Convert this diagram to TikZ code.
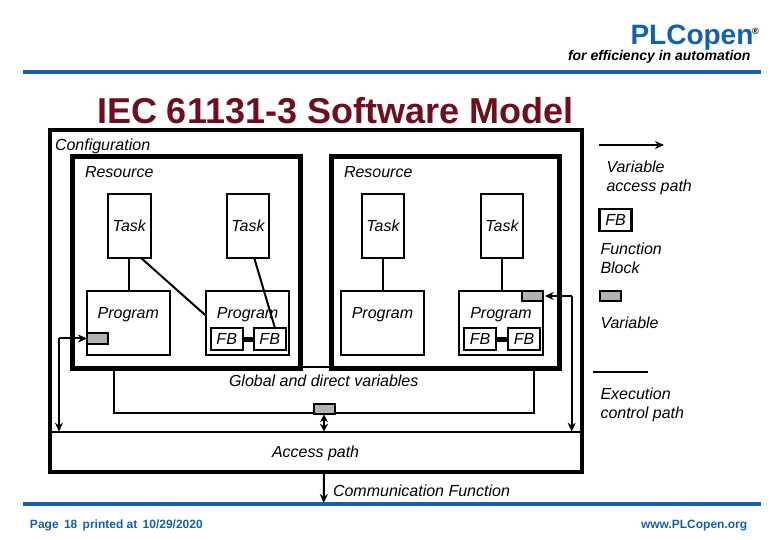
\documentclass[tikz,border=0pt]{standalone}
\usepackage{fontspec}
\setmainfont{Liberation Sans}
\usetikzlibrary{arrows.meta, positioning}
\definecolor{plcblue}{RGB}{18,96,176}
\definecolor{plcred}{RGB}{110,14,30}
\newcommand{\fs}[1]{\fontsize{#1}{1.2\dimexpr#1pt\relax}\selectfont}
\begin{document}
\begin{tikzpicture}[x=1pt,y=-1pt]
\useasboundingbox (0,0) rectangle (780,540);
% page head and foot
\begin{scope}[every node/.style={inner sep=0pt,outer sep=0pt,anchor=west}]
    \node[font=\fs{28}\bfseries,text=plcblue] (brand) at (630.5,37.5) {PLCopen};
    \node[font=\fs{9}\bfseries,text=black] (reg) at (752,31) {®};
    \node[font=\fs{14}\bfseries\itshape] (slogan) at (568,57) {for efficiency in automation};
    \node[font=\fs{36}\bfseries,text=plcred] (title) at (97,110.5) {IEC 61131-3 Software Model};
    \node[font=\fs{12}\bfseries,text=plcblue] (page) at (30,525) {Page\, 18\, printed at\, 10/29/2020};
    \node[font=\fs{12}\bfseries,text=plcblue] (web) at (641,525.5) {www.PLCopen.org};
\end{scope}
\coordinate (headl) at (23,72);
\coordinate (headr) at (761,72);
\coordinate (footl) at (23,504);
\coordinate (footr) at (761,504);
\draw[plcblue, line width=4.5pt] (headl) -- (headr);
\draw[plcblue, line width=4.5pt] (footl) -- (footr);

% boxes
\begin{scope}[every node/.style={shape=rectangle, draw, align=center, inner sep=0pt, outer sep=0pt,
    font=\fs{16}\itshape},
    confbox/.style={line width=4.5pt, minimum width=532pt, minimum height=342pt},
    resbox/.style={line width=5pt, minimum width=228pt, minimum height=212pt},
    globbox/.style={line width=2pt, minimum width=420pt, minimum height=46.7pt},
    taskbox/.style={line width=2pt, minimum width=42.6pt, minimum height=63.7pt},
    progbox/.style={line width=2pt, minimum width=83.5pt, minimum height=64.5pt,
        label={[inner sep=0pt,draw=none,yshift=8.5pt]center:Program}},
    fbbox/.style={line width=2.4pt, minimum width=32pt, minimum height=22pt},
    varbox/.style={line width=2pt, fill=gray!60, minimum width=21pt, minimum height=10.7pt}]
    \node[confbox] (conf) at (316,301) {};
    \node[globbox] (glob) at (324.2,390) {};
    \node[resbox] (resa) at (186.7,263) {};
    \node[resbox] (resb) at (445.3,263) {};

    \node[taskbox] (taska) at (129.3,226) {Task};
    \node[taskbox] (taskb) at (248,226) {Task};
    \node[taskbox] (taskc) at (383,226) {Task};
    \node[taskbox] (taskd) at (502,226) {Task};

    \node[progbox] (proga) at (128.3,323) {};
    \node[progbox] (progb) at (247.6,323) {};
    \node[progbox] (progc) at (382.5,323) {};
    \node[progbox] (progd) at (501,323) {};

    \node[fbbox] (fba) at (226.7,339.3) {FB};
    \node[fbbox] (fbb) at (269.7,339.3) {FB};
    \node[fbbox] (fbc) at (480,339.3) {FB};
    \node[fbbox] (fbd) at (524,339.3) {FB};

    \node[varbox] (vara) at (97.5,338.5) {};
    \node[varbox] (varb) at (532.2,296) {};
    \node[varbox] (varc) at (324,409) {};

    \node[fbbox] (keyfb) at (615.5,220.3) {FB};
    \node[varbox] (keyvar) at (610,296) {};
\end{scope}

% texts
\begin{scope}[every node/.style={inner sep=0pt, outer sep=0pt, anchor=west, align=left,
    font=\fs{16}\itshape}]
    \node (conftxt) at (55,146) {Configuration};
    \node (resatxt) at (85,172.5) {Resource};
    \node (resbtxt) at (344,172.5) {Resource};
    \node (globtxt) at (229,381) {Global and direct variables};
    \node (acctxt) at (272,453) {Access path};
    \node (commtxt) at (333,491) {Communication Function};
    \node (keya) at (606.5,178) {Variable\\access path};
    \node (keyb) at (600.5,258) {Function\\Block};
    \node (keyc) at (600.5,323) {Variable};
    \node (keyd) at (600.5,405) {Execution\\control path};
\end{scope}

% connectors
\coordinate (divl) at (52,431.7);
\coordinate (divr) at (580,431.7);
\coordinate (lbend) at (59,338.5);
\coordinate (rbend) at (571.7,296);
\coordinate (commend) at (323.7,503);
\coordinate (keyal) at (599,145);
\coordinate (keyar) at (664,145);
\coordinate (keydl) at (592.7,371.7);
\coordinate (keydr) at (647.7,371.7);
\begin{scope}[exec/.style={draw, line width=2pt},
    acc/.style={draw, line width=2pt, -{Stealth[length=9pt,width=8pt]}},
    both/.style={draw, line width=2pt, {Stealth[length=8pt,width=8pt]}-{Stealth[length=8pt,width=8pt]}}]
    \path[exec] (taska.south) -- (taska.south |- proga.north);
    \path[exec] (taska.-70) -- (progb.170);
    \path[exec] (taskb.-79) -- (fbb.64);
    \path[exec] (taskc.south) -- (taskc.south |- progc.north);
    \path[exec] (taskd.south) -- (taskd.south |- progd.north);
    \path[draw, line width=4.5pt] (fba) -- (fbb);
    \path[draw, line width=4.5pt] (fbc) -- (fbd);
    \path[exec] (divl) -- (divr);
    \path[acc] (lbend) -- (vara.west);
    \path[acc] (lbend) -- (lbend |- divl);
    \path[acc] (rbend) -- ([xshift=2pt]varb.east);
    \path[acc] (rbend) -- (rbend |- divr);
    \path[both] (varc.south) -- (varc.south |- divl);
    \path[acc] (conf.south -| varc) -- (commend);
    \path[acc] (keyal) -- (keyar);
    \path[exec] (keydl) -- (keydr);
\end{scope}
\end{tikzpicture}
\end{document}
